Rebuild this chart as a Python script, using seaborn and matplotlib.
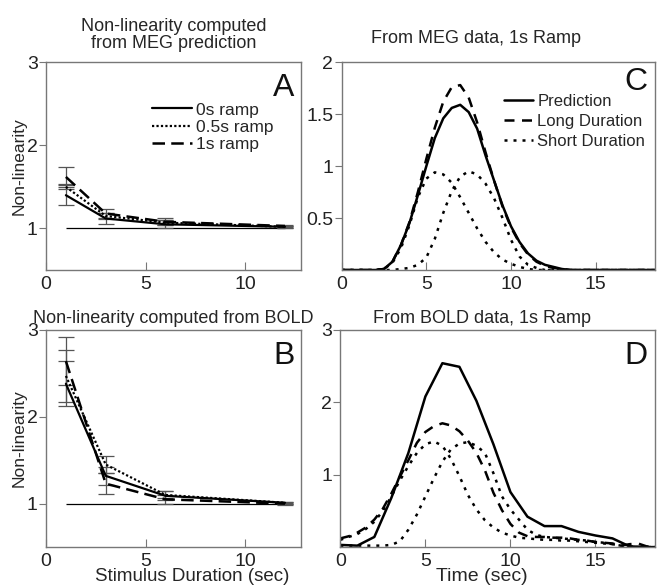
import matplotlib
matplotlib.use('Agg')
import matplotlib.pyplot as plt
import seaborn as sns

# ---- panel A / B : non-linearity vs stimulus duration ----
dur = [1, 3, 6, 12]
a_0s = [1.40, 1.12, 1.05, 1.02]
a_05s = [1.50, 1.15, 1.07, 1.02]
a_1s = [1.62, 1.18, 1.08, 1.03]
a_0s_err = [0.12, 0.07, 0.05, 0.01]
a_05s_err = [0.03, 0.04, 0.03, 0.01]
a_1s_err = [0.12, 0.06, 0.04, 0.01]

b_0s = [2.38, 1.32, 1.09, 1.01]
b_05s = [2.47, 1.45, 1.10, 1.01]
b_1s = [2.64, 1.23, 1.05, 1.00]
b_0s_err = [0.26, 0.10, 0.05, 0.01]
b_05s_err = [0.30, 0.10, 0.04, 0.01]
b_1s_err = [0.28, 0.12, 0.05, 0.01]

# ---- panel C : MEG data, 1s ramp ----
t_c = [0, 0.5, 1, 1.5, 2, 2.5, 3, 3.5, 4, 4.5, 5, 5.5, 6, 6.5, 7, 7.5, 8, 8.5, 9, 9.5,
       10, 10.5, 11, 11.5, 12, 12.5, 13, 13.5, 14, 14.5, 15, 15.5, 16, 16.5, 17, 17.5, 18, 18.5]
c_pred = [0, 0, 0, 0, 0, 0.01, 0.08, 0.24, 0.45, 0.72, 1.00, 1.27, 1.46, 1.56, 1.59, 1.52, 1.36, 1.10, 0.86, 0.62,
          0.42, 0.27, 0.16, 0.09, 0.05, 0.03, 0.01, 0, 0, 0, 0, 0, 0, 0, 0, 0, 0, 0]
c_long = [0, 0, 0, 0, 0, 0.01, 0.08, 0.24, 0.46, 0.75, 1.07, 1.37, 1.62, 1.76, 1.78, 1.66, 1.42, 1.13, 0.86, 0.61,
          0.41, 0.26, 0.15, 0.08, 0.04, 0.02, 0.01, 0, 0, 0, 0, 0, 0, 0, 0, 0, 0, 0]
c_short1 = [0, 0, 0, 0, 0, 0.01, 0.07, 0.21, 0.43, 0.70, 0.88, 0.94, 0.92, 0.84, 0.70, 0.55, 0.40, 0.27, 0.17, 0.10,
            0.06, 0.03, 0.01, 0, 0, 0, 0, 0, 0, 0, 0, 0, 0, 0, 0, 0, 0, 0]
c_short2 = [0, 0, 0, 0, 0, 0, 0, 0.01, 0.02, 0.05, 0.12, 0.30, 0.55, 0.76, 0.90, 0.95, 0.92, 0.83, 0.69, 0.50,
            0.29, 0.13, 0.05, 0.02, 0, 0, 0, 0, 0, 0, 0, 0, 0, 0, 0, 0, 0, 0]

# ---- panel D : BOLD data, 1s ramp ----
t_d1 = [0, 1, 2, 3, 4, 5, 6, 7, 8, 9, 10, 11, 12, 13, 14, 15, 16, 17, 18, 19]
d_pred = [0.03, 0.02, 0.14, 0.68, 1.30, 2.08, 2.54, 2.49, 2.02, 1.42, 0.76, 0.42, 0.29, 0.29, 0.21, 0.16, 0.12,
          0.01, 0, 0]
d_long = [0.12, 0.15, 0.20, 0.27, 0.38, 0.53, 0.74, 0.97, 1.20, 1.44, 1.59, 1.67, 1.71, 1.68, 1.60, 1.47, 1.30,
          1.06, 0.75, 0.51, 0.32, 0.20, 0.15, 0.14, 0.14, 0.13, 0.13, 0.12, 0.10, 0.09, 0.07, 0.06, 0.05, 0.02,
          0.04, 0.05, 0.01, 0]
d_short1 = [0.10, 0.14, 0.18, 0.25, 0.35, 0.50, 0.70, 0.92, 1.12, 1.30, 1.42, 1.46, 1.40, 1.22, 0.98, 0.72, 0.52,
            0.37, 0.27, 0.20, 0.16, 0.13, 0.12, 0.11, 0.10, 0.10, 0.09, 0.09, 0.08, 0.07, 0.06, 0.05, 0.04, 0.02,
            0.01, 0, 0, 0]
d_short2 = [0.02, 0.02, 0.02, 0.02, 0.02, 0.02, 0.03, 0.08, 0.24, 0.45, 0.70, 0.95, 1.18, 1.35, 1.43, 1.45, 1.40,
            1.30, 1.02, 0.70, 0.52, 0.38, 0.24, 0.17, 0.14, 0.13, 0.12, 0.11, 0.10, 0.09, 0.07, 0.06, 0.04, 0.02,
            0, 0, 0, 0]

SOLID = '-'
DOT_FINE = (0, (1, 1))
DOT = (0, (1.2, 2.4))
DASH_A = (0, (5, 2.5))
DASH_C = (0, (4, 3))
SPINE = '#777777'

sns.set_theme(style='ticks')
plt.rcParams['font.family'] = ['Liberation Sans', 'DejaVu Sans']
plt.rcParams['axes.edgecolor'] = SPINE
plt.rcParams['xtick.color'] = SPINE
plt.rcParams['ytick.color'] = SPINE
plt.rcParams['xtick.labelcolor'] = '#222222'
plt.rcParams['ytick.labelcolor'] = '#222222'

fig = plt.figure(figsize=(6.57, 5.87), dpi=100)
axA = fig.add_axes([0.070, 0.540, 0.388, 0.354])
axC = fig.add_axes([0.520, 0.540, 0.477, 0.354])
axB = fig.add_axes([0.070, 0.068, 0.388, 0.370])
axD = fig.add_axes([0.518, 0.068, 0.479, 0.370])


def style(ax, xlim, ylim, xt, yt, letter, ly=0.95):
    ax.set_xlim(*xlim); ax.set_ylim(*ylim)
    ax.set_xticks(xt); ax.set_yticks(yt)
    ax.set_xticklabels([f'{v:g}' for v in xt]); ax.set_yticklabels([f'{v:g}' for v in yt])
    ax.tick_params(axis='x', direction='in', length=6, width=0.8, labelsize=14, pad=4)
    ax.tick_params(axis='y', direction='out', length=5, width=0.8, labelsize=14, pad=1)
    for s in ax.spines.values():
        s.set_visible(True); s.set_linewidth(1.0); s.set_color(SPINE)
    ax.text(0.975, ly, letter, transform=ax.transAxes, ha='right', va='top', fontsize=23, color='#111111')


def nonlin(ax, y0, y05, y1, e0, e05, e1, legend):
    ax.hlines(1, 1, 12, color='black', lw=0.9)
    for y, e in [(y0, e0), (y05, e05), (y1, e1)]:
        ax.errorbar(dur, y, yerr=e, fmt='none', ecolor='#555555', elinewidth=0.9, capsize=6, capthick=0.9)
    sns.lineplot(x=dur, y=y0, ax=ax, color='black', lw=1.6, linestyle=SOLID, label='0s ramp')
    sns.lineplot(x=dur, y=y05, ax=ax, color='black', lw=1.6, linestyle=DOT_FINE, label='0.5s ramp')
    sns.lineplot(x=dur, y=y1, ax=ax, color='black', lw=1.8, linestyle=DASH_A, label='1s ramp')
    if legend:
        ax.legend(loc='upper left', bbox_to_anchor=(0.39, 0.84), frameon=False, fontsize=12.5,
                  handlelength=2.3, handletextpad=0.2, labelspacing=0.12, borderaxespad=0)
    else:
        ax.get_legend().remove()
    ax.set_ylabel('Non-linearity', fontsize=12.5, labelpad=0)


nonlin(axA, a_0s, a_05s, a_1s, a_0s_err, a_05s_err, a_1s_err, True)
style(axA, (0, 12.8), (0.5, 3), [0, 5, 10], [1, 2, 3], 'A')
axA.set_title('Non-linearity computed\nfrom MEG prediction', fontsize=13, pad=10, linespacing=1.05)

nonlin(axB, b_0s, b_05s, b_1s, b_0s_err, b_05s_err, b_1s_err, False)
style(axB, (0, 12.8), (0.5, 3), [0, 5, 10], [1, 2, 3], 'B')
axB.set_title('Non-linearity computed from BOLD', fontsize=13, pad=5)
axB.set_xlabel('Stimulus Duration (sec)', fontsize=13.5, labelpad=-1, x=0.575)

sns.lineplot(x=t_c, y=c_pred, ax=axC, color='black', lw=1.8, linestyle=SOLID, label='Prediction')
sns.lineplot(x=t_c, y=c_long, ax=axC, color='black', lw=1.8, linestyle=DASH_C, label='Long Duration')
sns.lineplot(x=t_c, y=c_short1, ax=axC, color='black', lw=1.8, linestyle=DOT, label='Short Duration')
sns.lineplot(x=t_c, y=c_short2, ax=axC, color='black', lw=1.8, linestyle=DOT)
axC.legend(loc='upper left', bbox_to_anchor=(0.497, 0.88), frameon=False, fontsize=12,
           handlelength=1.75, handletextpad=0.25, labelspacing=0.3, borderaxespad=0)
style(axC, (0, 18.5), (0, 2), [0, 5, 10, 15], [0.5, 1, 1.5, 2], 'C', ly=0.975)
axC.set_title('From MEG data, 1s Ramp', fontsize=13, pad=14, x=0.43)

sns.lineplot(x=t_d1, y=d_pred, ax=axD, color='black', lw=1.8, linestyle=SOLID)
sns.lineplot(x=t_c, y=d_long, ax=axD, color='black', lw=1.8, linestyle=DASH_C)
sns.lineplot(x=t_c, y=d_short1, ax=axD, color='black', lw=1.8, linestyle=DOT)
sns.lineplot(x=t_c, y=d_short2, ax=axD, color='black', lw=1.8, linestyle=DOT)
style(axD, (0, 18.5), (0, 3), [0, 5, 10, 15], [1, 2, 3], 'D')
axD.set_title('From BOLD data, 1s Ramp', fontsize=13, pad=5, x=0.45)
axD.set_xlabel('Time (sec)', fontsize=14, labelpad=-1, x=0.45)

fig.savefig('out.png', dpi=100)
